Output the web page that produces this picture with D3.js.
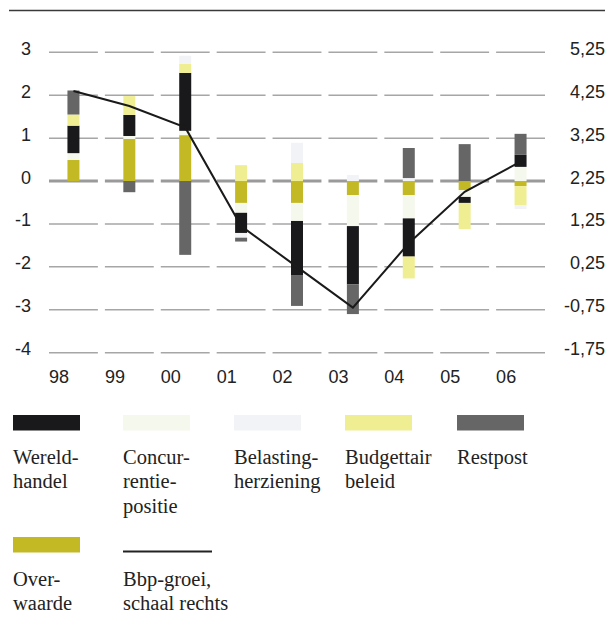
<!DOCTYPE html>
<html>
<head>
<meta charset="utf-8">
<script src="https://cdn.jsdelivr.net/npm/d3@7"></script>
<style>
  html, body { margin: 0; padding: 0; background: #ffffff; }
  svg { display: block; }
</style>
</head>
<body>
<svg id="chart" width="613" height="626"></svg>
<script>
// Jaren (categorieën)
const years = ["98", "99", "00", "01", "02", "03", "04", "05", "06"];

// Bijdragen aan de bbp-groei per factor (procentpunt, schaal links)
const overwaarde   = [0.49, 0.98, 1.07, -0.51, -0.51, -0.33, -0.33, -0.21, -0.12];
const concurrentie = [0.16, 0.07, 0.10, -0.23, -0.42, -0.72, -0.54, -0.16, 0.33];
const wereldhandel = [0.64, 0.49, 1.35, -0.47, -1.26, -1.36, -0.89, -0.14, 0.28];
const budgettair   = [0.26, 0.44, 0.21, 0.37, 0.42, 0.00, -0.51, -0.61, -0.44];
const belasting    = [0.00, 0.00, 0.19, -0.11, 0.47, 0.14, 0.07, 0.00, -0.09];
const restpost     = [0.56, -0.26, -1.72, -0.09, -0.72, -0.69, 0.70, 0.86, 0.49];

// Bbp-groei (%, schaal rechts)
const bbpGroei = [4.35, 4.0, 3.5, 1.2, 0.25, -0.7, 0.8, 2.0, 2.7];

// Aslabels
const leftTicks  = [3, 2, 1, 0, -1, -2, -3, -4];
const rightTicks = [5.25, 4.25, 3.25, 2.25, 1.25, 0.25, -0.75, -1.75];

const svg = d3.select("#chart");

// Schalen
const x = d3.scaleBand().domain(years).range([45.5, 548.5]).padding(0);
const yLeft = d3.scaleLinear().domain([-4, 3]).range([352.7, 52.3]);
const yRight = d3.scaleLinear().domain([-1.75, 5.25]).range([352.7, 52.3]);

const seriesDefs = [
  { key: "overwaarde",   label: ["Over-", "waarde"],               color: "#c3b925", values: overwaarde },
  { key: "concurrentie", label: ["Concur-", "rentie-", "positie"], color: "#f5f8ec", values: concurrentie },
  { key: "wereldhandel", label: ["Wereld-", "handel"],             color: "#19191b", values: wereldhandel },
  { key: "budgettair",   label: ["Budgettair", "beleid"],          color: "#f0ee92", values: budgettair },
  { key: "belasting",    label: ["Belasting-", "herziening"],      color: "#f2f3f6", values: belasting },
  { key: "restpost",     label: ["Restpost"],                      color: "#666666", values: restpost }
];
const colorOf = Object.fromEntries(seriesDefs.map(s => [s.key, s.color]));

// Tabel voor d3.stack
const table = years.map((yr, i) => {
  const row = { year: yr };
  seriesDefs.forEach(s => { row[s.key] = s.values[i]; });
  return row;
});

const stacked = d3.stack()
  .keys(seriesDefs.map(s => s.key))
  .offset(d3.stackOffsetDiverging)(table);

// Bovenste lijn
svg.append("line")
  .attr("x1", 9).attr("x2", 605)
  .attr("y1", 10.5).attr("y2", 10.5)
  .attr("stroke", "#3a3a3a").attr("stroke-width", 1.4);

// Rasterlijnen, per jaar onderbroken
const gridInset = 3.5;
const grid = svg.append("g");
leftTicks.forEach(v => {
  years.forEach(yr => {
    grid.append("line")
      .attr("x1", x(yr) + gridInset)
      .attr("x2", x(yr) + x.bandwidth() - gridInset)
      .attr("y1", yLeft(v)).attr("y2", yLeft(v))
      .attr("stroke", v === 0 ? "#9a9a9a" : "#a6a6a6")
      .attr("stroke-width", v === 0 ? 3 : 1.5);
  });
});

// Gestapelde staven
const barW = 12;
svg.append("g")
  .selectAll("g")
  .data(stacked)
  .join("g")
  .attr("fill", d => colorOf[d.key])
  .selectAll("rect")
  .data(d => d)
  .join("rect")
  .attr("x", d => x(d.data.year) + x.bandwidth() / 2 - barW / 2)
  .attr("width", barW)
  .attr("y", d => yLeft(Math.max(d[0], d[1])))
  .attr("height", d => Math.abs(yLeft(d[0]) - yLeft(d[1])));

// Bbp-groei lijn
const line = d3.line()
  .x((d, i) => x(years[i]) + x.bandwidth() / 2)
  .y(d => yRight(d));
svg.append("path")
  .datum(bbpGroei)
  .attr("d", line)
  .attr("fill", "none")
  .attr("stroke", "#1a1a1a")
  .attr("stroke-width", 2)
  .attr("stroke-linejoin", "miter");

// Assen
const axisFont = "'Liberation Sans', Arial, sans-serif";
const leftAxis = svg.append("g")
  .attr("transform", "translate(31,0)")
  .call(d3.axisLeft(yLeft).tickValues(leftTicks).tickSize(0).tickPadding(0).tickFormat(d => String(d)));
const rightAxis = svg.append("g")
  .attr("transform", "translate(605,0)")
  .call(d3.axisLeft(yRight).tickValues(rightTicks).tickSize(0).tickPadding(0)
    .tickFormat(d => d.toFixed(2).replace(".", ",")));
const bottomAxis = svg.append("g")
  .attr("transform", "translate(0,383)")
  .call(d3.axisBottom(x).tickSize(0).tickPadding(0));

[leftAxis, rightAxis, bottomAxis].forEach(g => {
  g.select(".domain").remove();
  g.attr("font-family", axisFont).attr("font-size", 18);
  g.selectAll("text").attr("fill", "#222");
});
leftAxis.selectAll("text").attr("dy", 2).attr("text-anchor", "end");
rightAxis.selectAll("text").attr("dy", 2).attr("text-anchor", "end");
bottomAxis.selectAll("text")
  .attr("text-anchor", "start")
  .attr("dy", 0).attr("y", 0)
  .attr("x", -x.bandwidth() / 2 + gridInset);

// Legenda
const legendFont = "'Liberation Serif', 'Times New Roman', serif";
const legend = svg.append("g")
  .attr("font-family", legendFont)
  .attr("font-size", 20.5)
  .attr("fill", "#222");

const legendItems = [
  { key: "wereldhandel", col: 0, row: 0 },
  { key: "concurrentie", col: 1, row: 0 },
  { key: "belasting",    col: 2, row: 0 },
  { key: "budgettair",   col: 3, row: 0 },
  { key: "restpost",     col: 4, row: 0 },
  { key: "overwaarde",   col: 0, row: 1 },
  { key: "bbp",          col: 1, row: 1 }
];
const colX = [13, 123, 234, 345, 457];
const rowY = [415, 537];
const labelOf = Object.fromEntries(seriesDefs.map(s => [s.key, s.label]));
labelOf.bbp = ["Bbp-groei,", "schaal rechts"];

legendItems.forEach(it => {
  const gx = colX[it.col], gy = rowY[it.row];
  const g = legend.append("g").attr("transform", `translate(${gx},${gy})`);
  if (it.key === "bbp") {
    g.append("line")
      .attr("x1", 0).attr("x2", 89)
      .attr("y1", 14.5).attr("y2", 14.5)
      .attr("stroke", "#222").attr("stroke-width", 2.2);
  } else {
    g.append("rect")
      .attr("width", 67).attr("height", 15.5)
      .attr("fill", colorOf[it.key]);
  }
  g.selectAll("text")
    .data(labelOf[it.key])
    .join("text")
    .attr("x", 0)
    .attr("y", (d, i) => 48.5 + i * 24.5)
    .text(d => d);
});
</script>
</body>
</html>
